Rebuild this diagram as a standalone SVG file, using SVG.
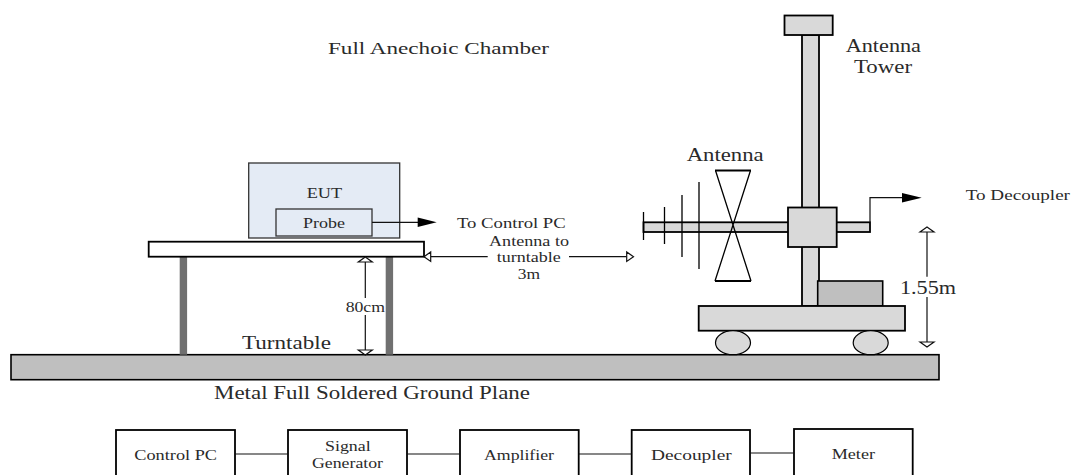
<svg xmlns="http://www.w3.org/2000/svg" width="1073" height="475" viewBox="0 0 1073 475">
<style>
text{font-family:"Liberation Serif","Times New Roman",serif;fill:#2a2a2a}
.s14{font-size:15.5px}.s15{font-size:16.5px}.s17{font-size:18px}
.g{fill:#d9d9d9;stroke:#000;stroke-width:1.8}
.d{fill:#bfbfbf;stroke:#000;stroke-width:1.6}
.w{fill:#fff;stroke:#000;stroke-width:1.8}
.b{fill:#e4ebf5;stroke:#333;stroke-width:1.3}
.l{fill:none;stroke:#111;stroke-width:1.2}
.t{fill:none;stroke:#000;stroke-width:1.3}
.h{fill:#000;stroke:none}
.o{fill:#fff;stroke:#111;stroke-width:1.2}
.leg{fill:#707070;stroke:none}
</style>
<g id="ground"><rect class="d" x="11" y="354.7" width="928" height="25"/></g>
<g id="turntable">
<rect class="leg" x="179.7" y="256.7" width="7.4" height="98"/>
<rect class="leg" x="385.7" y="256.7" width="7.4" height="98"/>
<rect class="w" x="148.7" y="241.7" width="275.3" height="15"/>
</g>
<g id="eut"><rect class="b" x="248.7" y="163" width="151" height="75"/><text class="s14" x="306.7" y="198" textLength="35.5" lengthAdjust="spacingAndGlyphs">EUT</text></g>
<g id="probe"><rect class="b" x="276" y="209" width="96" height="27"/><text class="s14" x="303" y="227.7" textLength="42" lengthAdjust="spacingAndGlyphs">Probe</text></g>
<g id="tower">
<rect class="g" x="802" y="35" width="17" height="271"/>
<rect class="g" x="784.5" y="15.5" width="48.2" height="19.5"/>
</g>
<g id="antenna">
<rect class="g" x="643.5" y="222.3" width="226.5" height="9.7"/>
<path class="t" d="M643.5 212V240M664.5 207V244M682 195V257M699 182V269"/>
<path class="t" d="M715.5 170.5L751 281M750.5 170.5L715 281"/>
<path d="M715 170.5H751M715 281H751" fill="none" stroke="#000" stroke-width="2.2"/>
</g>
<g id="joint"><rect class="g" x="788" y="207.5" width="48.7" height="39.5"/></g>
<g id="cart">
<rect class="d" x="817.7" y="281" width="65" height="25"/>
<rect class="g" x="698.7" y="306" width="206.3" height="24.7"/>
<ellipse class="g" cx="733" cy="342.7" rx="17.5" ry="12" style="stroke-width:1.2"/>
<ellipse class="g" cx="870.7" cy="342.7" rx="17.5" ry="12" style="stroke-width:1.2"/>
</g>
<g id="chain">
<g id="control-pc"><rect class="w" x="116" y="430" width="119" height="50"/><text class="s14" x="134.3" y="460" textLength="82.7" lengthAdjust="spacingAndGlyphs">Control PC</text></g>
<g id="signal-generator"><rect class="w" x="288" y="430" width="119" height="50"/><text class="s14" x="325" y="451" textLength="45.7" lengthAdjust="spacingAndGlyphs">Signal</text><text class="s14" x="312" y="468" textLength="71" lengthAdjust="spacingAndGlyphs">Generator</text></g>
<g id="amplifier"><rect class="w" x="460" y="430" width="118.7" height="50"/><text class="s14" x="484" y="460" textLength="70" lengthAdjust="spacingAndGlyphs">Amplifier</text></g>
<g id="decoupler"><rect class="w" x="631.7" y="430" width="118.3" height="50"/><text class="s14" x="651" y="460" textLength="80.7" lengthAdjust="spacingAndGlyphs">Decoupler</text></g>
<g id="meter"><rect class="w" x="794" y="429" width="118.7" height="51"/><text class="s14" x="831.7" y="459" textLength="43.3" lengthAdjust="spacingAndGlyphs">Meter</text></g>
</g>
<g id="connectors">
<path class="l" d="M235 454H288M407 454H460M578.7 454H631.7M750 453H794"/>
<path class="l" d="M372 222.3H418"/><path class="h" d="M417.7 217.5L436.7 222.3L417.7 227Z"/>
<path class="l" d="M870 222V197.7H903"/><path class="h" d="M902 193L921.7 197.7L902 202.5Z"/>
<path class="l" d="M430.7 256.7H487.7M569 256.7H626.7"/>
<path class="o" d="M424 256.7L430.7 252V261.4Z"/><path class="o" d="M633.5 256.7L626.7 252V261.4Z"/>
<path class="l" d="M365.3 262V298M365.3 315V350"/>
<path class="o" d="M365.3 257L372.3 262H358.3Z"/><path class="o" d="M365.3 355L372.3 350H358.3Z"/>
<path class="l" d="M927 232V276.7M927 297V342"/>
<path class="o" d="M927 227L934 232H920Z"/><path class="o" d="M927 347L934 342H920Z"/>
</g>
<g id="labels">
<text class="s15" x="328" y="54" textLength="221" lengthAdjust="spacingAndGlyphs">Full Anechoic Chamber</text>
<text class="s17" x="845.7" y="52" textLength="75.3" lengthAdjust="spacingAndGlyphs">Antenna</text>
<text class="s17" x="854" y="72.7" textLength="58" lengthAdjust="spacingAndGlyphs">Tower</text>
<text class="s17" x="686.7" y="161" textLength="77" lengthAdjust="spacingAndGlyphs">Antenna</text>
<text class="s14" x="965.7" y="200" textLength="104.3" lengthAdjust="spacingAndGlyphs">To Decoupler</text>
<text class="s14" x="457" y="228" textLength="108.7" lengthAdjust="spacingAndGlyphs">To Control PC</text>
<text class="s14" x="489" y="246" textLength="80" lengthAdjust="spacingAndGlyphs">Antenna to</text>
<text class="s14" x="496.7" y="262" textLength="64" lengthAdjust="spacingAndGlyphs">turntable</text>
<text class="s14" x="517.7" y="279" textLength="22.3" lengthAdjust="spacingAndGlyphs">3m</text>
<text class="s14" x="345.7" y="312" textLength="39.3" lengthAdjust="spacingAndGlyphs">80cm</text>
<text class="s17" x="242" y="349" textLength="89" lengthAdjust="spacingAndGlyphs">Turntable</text>
<text class="s17" x="900" y="294" textLength="56" lengthAdjust="spacingAndGlyphs">1.55m</text>
<text class="s17" x="214" y="399" textLength="316" lengthAdjust="spacingAndGlyphs">Metal Full Soldered Ground Plane</text>
</g>
</svg>
